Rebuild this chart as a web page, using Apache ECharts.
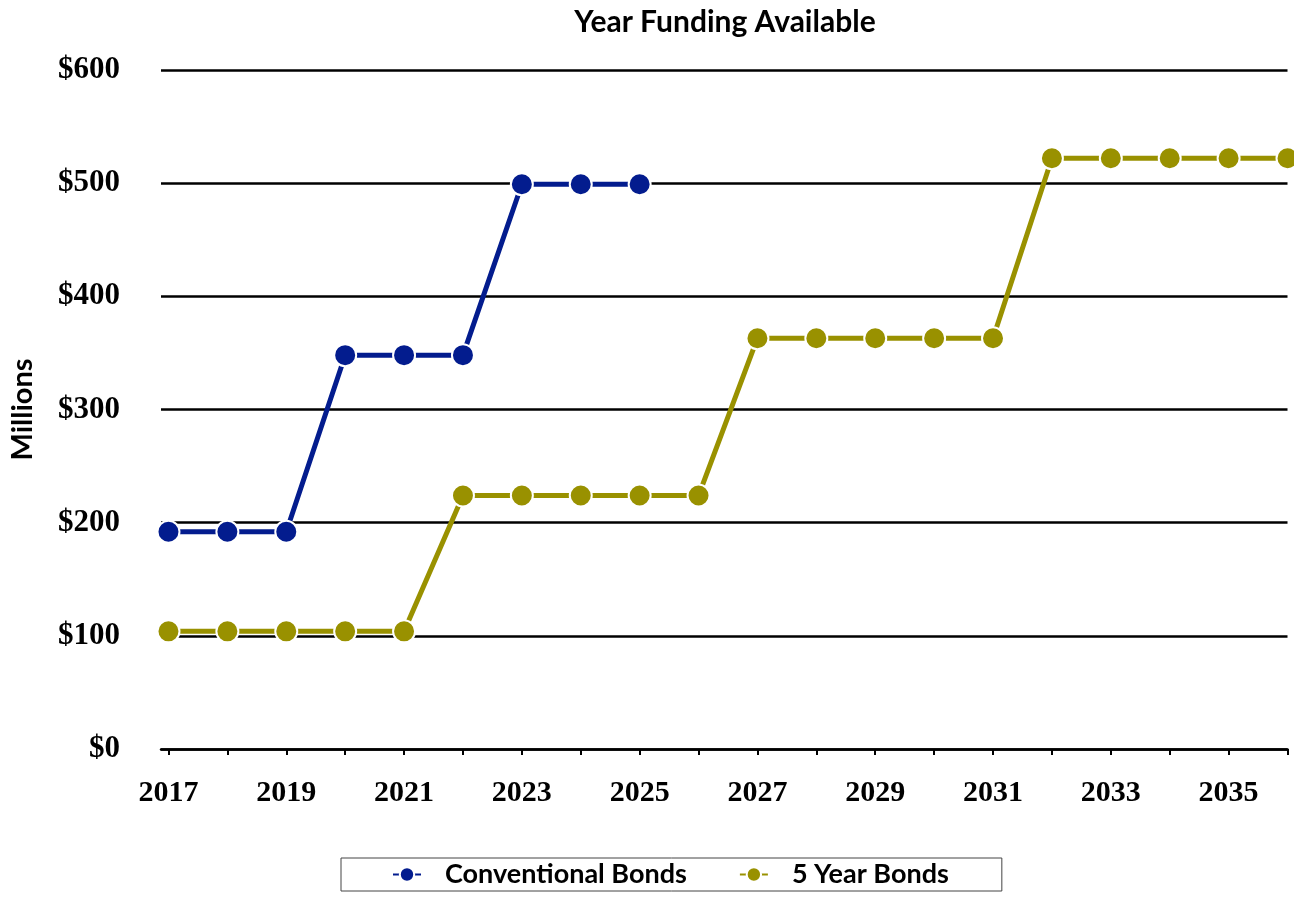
<!DOCTYPE html>
<html>
<head>
<meta charset="utf-8">
<script src="https://cdn.jsdelivr.net/npm/echarts@6/dist/echarts.min.js"></script>
<style>
  html, body { margin: 0; padding: 0; background: #fff; }
  #chart { width: 1294px; height: 898px; }
</style>
</head>
<body>
<div id="chart"></div>
<script>
// Funding available per year, in millions of dollars
const years = [2017, 2018, 2019, 2020, 2021, 2022, 2023, 2024, 2025, 2026,
               2027, 2028, 2029, 2030, 2031, 2032, 2033, 2034, 2035, 2036];
const conventionalBonds = [192, 192, 192, 348, 348, 348, 499, 499, 499];
const fiveYearBonds = [104, 104, 104, 104, 104, 224, 224, 224, 224, 224,
                       363, 363, 363, 363, 363, 522, 522, 522, 522, 522];
const yTicks = [0, 100, 200, 300, 400, 500, 600];
const labelYears = years.filter((y, i) => i % 2 === 0);

const toPairs = (vals) => vals.map((v, i) => [years[i], v]);

const serifFont = '"Liberation Serif", "DejaVu Serif", serif';
const sansFont = 'Lato, "Open Sans", sans-serif';

const chart = echarts.init(document.getElementById('chart'), null, { renderer: 'canvas' });

const seriesStyle = (color) => ({
  type: 'line',
  symbol: 'circle',
  symbolSize: 22,
  lineStyle: { color: color, width: 5 },
  itemStyle: { color: color, borderColor: '#fff', borderWidth: 2 },
  emphasis: { disabled: true },
  clip: false,
  z: 3
});

chart.setOption({
  animation: false,
  backgroundColor: '#fff',
  title: {
    text: 'Year Funding Available',
    left: 720,
    textAlign: 'center',
    top: 2,
    textStyle: { fontFamily: sansFont, fontWeight: 'bold', fontSize: 30, color: '#000' }
  },
  legend: {
    left: 341,
    top: 858,
    padding: [3, 53, 3, 51],
    itemGap: 52,
    itemWidth: 28,
    itemHeight: 18,
    borderColor: '#444',
    borderWidth: 1,
    textStyle: { fontFamily: sansFont, fontWeight: 'bold', fontSize: 27, color: '#000', padding: [0, 0, 0, 19] },
    data: ['Conventional Bonds', '5 Year Bonds']
  },
  grid: { left: 158, right: 6.5, top: 70, bottom: 149, containLabel: false },
  xAxis: {
    type: 'value',
    min: 2016.873,
    max: 2036,
    axisLine: { show: true, lineStyle: { color: '#000', width: 2.5 } },
    axisTick: { show: true, length: 6, lineStyle: { color: '#000', width: 2 }, customValues: years },
    axisLabel: {
      customValues: labelYears,
      margin: 29,
      fontFamily: serifFont, fontWeight: 'bold', fontSize: 30, color: '#000',
      formatter: (v) => String(v)
    },
    splitLine: { show: false }
  },
  yAxis: {
    type: 'value',
    min: 0,
    max: 600,
    interval: 100,
    axisLine: { show: false },
    axisTick: { show: false },
    axisLabel: {
      margin: 41,
      fontFamily: serifFont, fontWeight: 'bold', fontSize: 31, color: '#000',
      formatter: (v) => yTicks.includes(v) ? '$' + v : ''
    },
    splitLine: { show: true, lineStyle: { color: '#000', width: 2.5 } },
    name: 'Millions',
    nameLocation: 'middle',
    nameGap: 124,
    nameRotate: 90,
    nameTextStyle: { fontFamily: sansFont, fontWeight: 'bold', fontSize: 29, color: '#000' }
  },
  series: [
    Object.assign({ name: 'Conventional Bonds', data: toPairs(conventionalBonds) }, seriesStyle('#031c8e')),
    Object.assign({ name: '5 Year Bonds', data: toPairs(fiveYearBonds) }, seriesStyle('#999100'))
  ]
});
</script>
</body>
</html>
